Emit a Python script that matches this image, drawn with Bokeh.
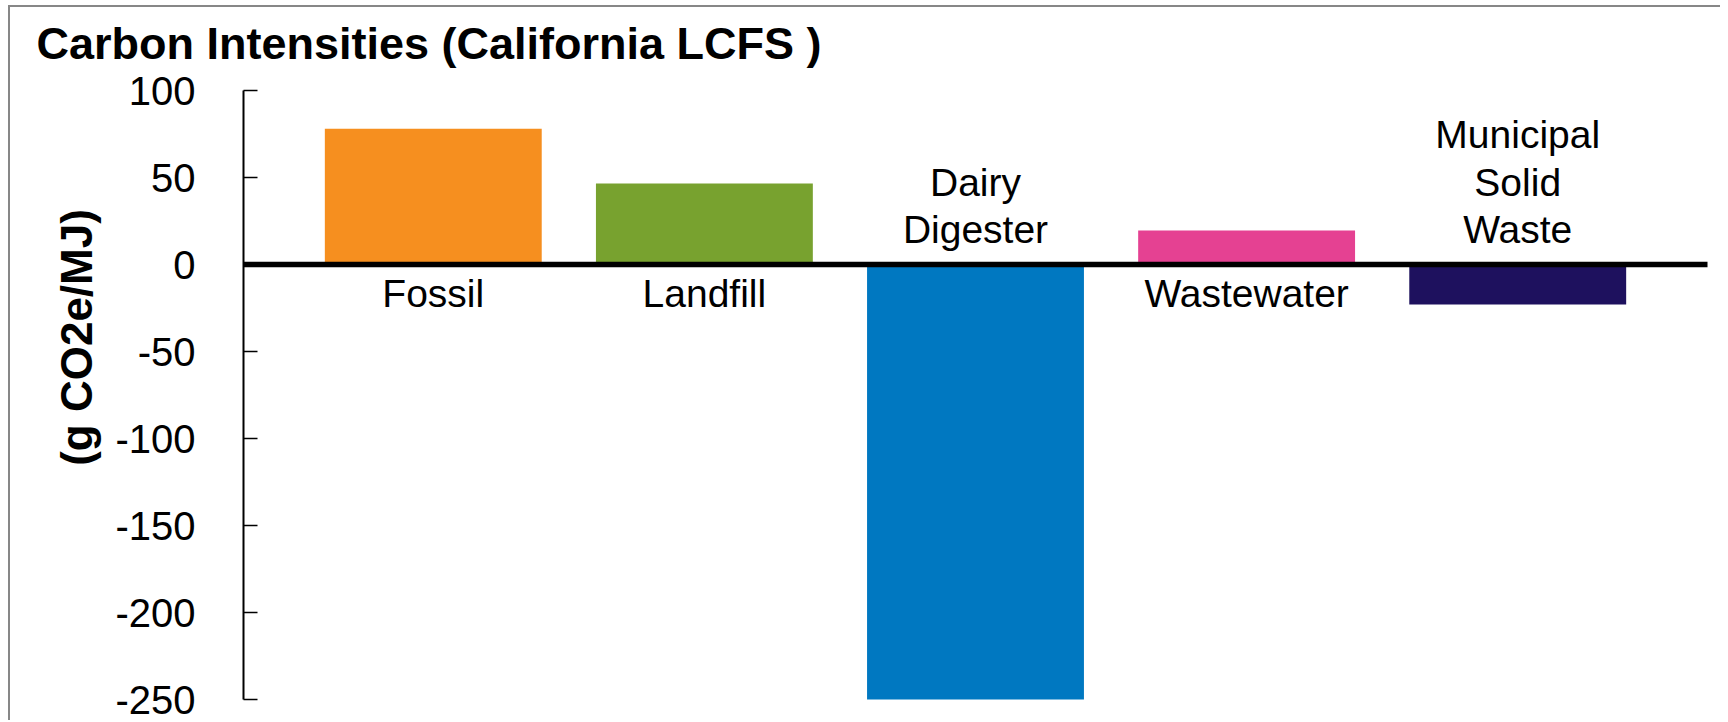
import math
from bokeh.plotting import figure
from bokeh.models import Range1d, FixedTicker, Label, ColumnDataSource
from bokeh.core.properties import value
from bokeh.embed import file_html
from bokeh.resources import INLINE

# ---- data ----
categories = ["Fossil", "Landfill", "Dairy\nDigester", "Wastewater", "Municipal\nSolid\nWaste"]
ci_values = [78, 46.5, -250, 19.5, -23]
bar_colors = ["#F68F1F", "#78A22F", "#0078C1", "#E54192", "#1E115E"]
y_ticks = [100, 50, 0, -50, -100, -150, -200, -250]
y_min, y_max = -250, 100
title_text = "Carbon Intensities (California LCFS )"
y_label_text = "(g CO2e/MJ)"

FONT = "Liberation Sans"

# ---- layout (pixels) ----
W, H = 1712, 715
AX_LEFT, AX_RIGHT = 233, 1697          # canvas x of value axis / end of zero line
AX_TOP, AX_BOTTOM = 83, 692            # canvas y of y_max / y_min
n = len(categories)
x_lo, x_hi = -0.7, n - 1 + 0.7
sx = (AX_RIGHT - AX_LEFT) / (x_hi - x_lo)
sy = (AX_BOTTOM - AX_TOP) / (y_max - y_min)
x_range = Range1d(x_lo - AX_LEFT / sx, x_hi + (W - AX_RIGHT) / sx)
y_range = Range1d(y_min - (H - AX_BOTTOM) / sy, y_max + AX_TOP / sy)

def px_x(cx):  # canvas x -> data x
    return x_range.start + cx / sx

def px_y(cy):  # canvas y -> data y
    return y_range.end - cy / sy

p = figure(width=W, height=H, output_backend="svg", toolbar_location=None, title=None,
           x_range=x_range, y_range=y_range,
           min_border_left=0, min_border_right=0, min_border_top=0, min_border_bottom=0)
p.styles = {"border-top": "2px solid #878787", "border-left": "2px solid #878787",
            "margin-top": "5px", "margin-left": "8px"}
p.outline_line_color = None
p.grid.visible = False
p.background_fill_color = "white"
p.border_fill_color = "white"

idx = list(range(n))
src = ColumnDataSource(dict(x=idx, top=ci_values, color=bar_colors))
p.vbar(x="x", top="top", bottom=0, width=0.8, color="color", line_color=None, source=src)

# zero line = category axis crossing at 0
xa = p.xaxis[0]
xa.fixed_location = 0
xa.bounds = (x_lo, x_hi)
xa.ticker = FixedTicker(ticks=[])
xa.minor_tick_line_color = None
xa.major_tick_line_color = None
xa.major_label_text_color = None
xa.axis_line_width = 5.5
xa.axis_line_color = "black"

ya = p.yaxis[0]
ya.fixed_location = x_lo
ya.bounds = (y_min, y_max)
ya.ticker = FixedTicker(ticks=y_ticks)
ya.major_label_overrides = {t: str(t) for t in y_ticks}
ya.minor_tick_line_color = None
ya.major_tick_in = 14
ya.major_tick_out = 0
ya.major_tick_line_width = 1.5
ya.major_tick_line_color = "black"
ya.axis_line_width = 2
ya.axis_line_color = "black"
ya.major_label_standoff = 48
ya.major_label_text_font = FONT
ya.major_label_text_font_size = "40px"
ya.major_label_text_color = "black"

# category labels: below zero line for positive bars, above for negative bars
lx, ly, lt, lo = [], [], [], []
line_step = 47.5
for i, (cat, v) in enumerate(zip(categories, ci_values)):
    lines = cat.split("\n")
    m = len(lines)
    for k, line in enumerate(lines):
        lx.append(i)
        ly.append(0)
        lt.append(line)
        if v >= 0:
            lo.append(29 + k * line_step)
        else:
            lo.append(-35 - (m - 1 - k) * line_step)
p.text(x=lx, y=ly, text=lt, y_offset=lo, text_align="center", text_baseline="alphabetic",
       text_font=value(FONT), text_font_size="39px", text_color="black")

p.add_layout(Label(x=px_x(26), y=px_y(36), text=title_text, text_font=FONT,
                   text_font_size="45px", text_font_style="bold", text_color="black",
                   text_baseline="alphabetic", text_align="left"))
p.add_layout(Label(x=px_x(66), y=px_y(330), text=y_label_text, angle=math.pi / 2,
                   text_font=FONT, text_font_size="44px", text_font_style="bold",
                   text_color="black", text_baseline="middle", text_align="center"))

open("out.html", "w").write(file_html(p, INLINE))
